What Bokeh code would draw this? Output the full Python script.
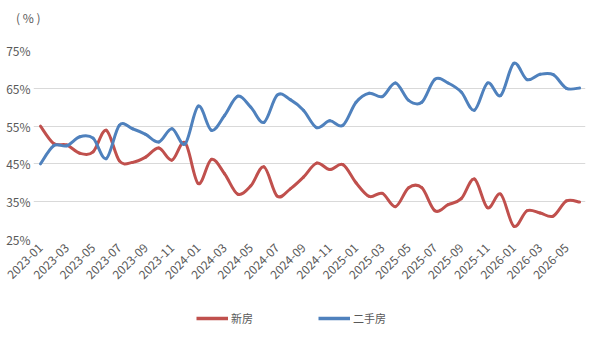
import numpy as np
from bokeh.plotting import figure
from bokeh.layouts import column
from bokeh.models import (Range1d, FixedTicker, Legend, LegendItem, PrintfTickFormatter,
                          ColumnDataSource, Div)
from bokeh.embed import file_html
from bokeh.resources import INLINE

months = ["2023-01", "2023-02", "2023-03", "2023-04", "2023-05", "2023-06", "2023-07", "2023-08",
          "2023-09", "2023-10", "2023-11", "2023-12", "2024-01", "2024-02", "2024-03", "2024-04",
          "2024-05", "2024-06", "2024-07", "2024-08", "2024-09", "2024-10", "2024-11", "2024-12",
          "2025-01", "2025-02", "2025-03", "2025-04", "2025-05", "2025-06", "2025-07", "2025-08",
          "2025-09", "2025-10", "2025-11", "2025-12", "2026-01", "2026-02", "2026-03", "2026-04",
          "2026-05", "2026-06"]

new_home = [55.0, 50.4, 50.0, 47.8, 48.2, 53.9, 45.8, 45.4, 46.8, 49.2, 46.0, 50.6,
            39.8, 46.2, 42.4, 37.0, 39.2, 44.2, 36.5, 38.4, 41.5, 45.2, 43.5, 44.8,
            40.0, 36.4, 37.2, 33.7, 38.7, 38.7, 32.6, 34.2, 35.8, 41.0, 33.4, 37.0,
            28.5, 32.6, 32.0, 31.2, 35.2, 34.9]

second_hand = [45.0, 49.8, 49.8, 52.2, 51.8, 46.4, 55.2, 54.3, 52.8, 50.8, 54.3, 50.3,
               60.3, 53.9, 57.8, 62.9, 60.0, 56.0, 63.2, 62.0, 59.2, 54.6, 56.4, 55.2,
               61.3, 63.7, 62.8, 66.4, 61.8, 61.3, 67.4, 66.4, 64.0, 59.2, 66.4, 63.1,
               71.6, 67.3, 68.7, 68.6, 65.0, 65.1]

series_names = ["新房", "二手房"]
colors = ["#C0504D", "#4F81BD"]
y_ticks = [25, 35, 45, 55, 65, 75]
unit_text = "( % )"
FONT = "Noto Sans CJK SC"
GREY = "#595959"

W = 606
TOP_H = 36
MAIN_H = 295 - TOP_H
LEG_H = 341 - TOP_H - MAIN_H

# top strip with the unit label
top = Div(text=unit_text, width=W, height=TOP_H, margin=0,
          styles={"font-family": FONT, "font-size": "12px", "color": GREY,
                  "line-height": "16px", "padding-left": "16px", "padding-top": "10px",
                  "box-sizing": "border-box", "background": "white"})

# main chart
p = figure(width=W, height=MAIN_H, output_backend="svg", toolbar_location=None,
           x_range=Range1d(-0.53, 41.45), y_range=Range1d(25, 75),
           min_border_left=33, min_border_right=21, min_border_top=50 - TOP_H, min_border_bottom=56)
p.outline_line_color = None
p.background_fill_color = "white"
p.border_fill_color = "white"
p.title.visible = False


def bezier_source(vals):
    n = len(vals)
    xs = np.arange(n, dtype=float)
    ys = np.asarray(vals, dtype=float)
    d = dict(x0=[], y0=[], x1=[], y1=[], cx0=[], cy0=[], cx1=[], cy1=[])
    for k in range(n - 1):
        a = max(k - 1, 0)
        b = min(k + 2, n - 1)
        d["x0"].append(xs[k]); d["y0"].append(ys[k])
        d["x1"].append(xs[k + 1]); d["y1"].append(ys[k + 1])
        d["cx0"].append(xs[k] + (xs[k + 1] - xs[a]) / 6)
        d["cy0"].append(ys[k] + (ys[k + 1] - ys[a]) / 6)
        d["cx1"].append(xs[k + 1] - (xs[b] - xs[k]) / 6)
        d["cy1"].append(ys[k + 1] - (ys[b] - ys[k]) / 6)
    return ColumnDataSource(d)


for vals, col in zip([new_home, second_hand], colors):
    p.bezier(x0="x0", y0="y0", x1="x1", y1="y1", cx0="cx0", cy0="cy0", cx1="cx1", cy1="cy1",
             source=bezier_source(vals), line_color=col, line_width=3, line_cap="round")

p.yaxis.ticker = FixedTicker(ticks=y_ticks)
p.yaxis.formatter = PrintfTickFormatter(format="%d%%")
p.yaxis.axis_line_color = None
p.yaxis.major_tick_line_color = None
p.yaxis.minor_tick_line_color = None
p.yaxis.major_tick_out = 0
p.yaxis.major_tick_in = 0
p.yaxis.major_label_standoff = 3
p.yaxis.major_label_text_font = FONT
p.yaxis.major_label_text_font_size = "12px"
p.yaxis.major_label_text_color = GREY

xt = list(range(0, len(months), 2))
p.xaxis.ticker = FixedTicker(ticks=xt)
p.xaxis.major_label_overrides = {i: months[i] for i in xt}
p.xaxis.major_label_orientation = np.pi / 4
p.xaxis.axis_line_color = None
p.xaxis.major_tick_line_color = None
p.xaxis.minor_tick_line_color = None
p.xaxis.major_tick_out = 0
p.xaxis.major_tick_in = 0
p.xaxis.major_label_standoff = 6
p.xaxis.major_label_text_font = FONT
p.xaxis.major_label_text_font_size = "12px"
p.xaxis.major_label_text_color = GREY

p.xgrid.grid_line_color = None
p.ygrid.ticker = FixedTicker(ticks=y_ticks)
p.ygrid.grid_line_color = "#D9D9D9"
p.ygrid.grid_line_width = 1

# legend strip below the chart
lf = figure(width=W, height=LEG_H, output_backend="svg", toolbar_location=None,
            x_range=Range1d(0, 1), y_range=Range1d(0, 1),
            x_axis_location=None, y_axis_location=None,
            min_border_left=0, min_border_right=0, min_border_top=0, min_border_bottom=0)
lf.grid.visible = False
lf.outline_line_color = None
lf.border_fill_color = "white"
lf.background_fill_color = "white"
lf.title.visible = False
items = []
for name, col in zip(series_names, colors):
    r = lf.line(x=[-100, -90], y=[-100, -100], line_color=col, line_width=3.5)
    items.append(LegendItem(label=name, renderers=[r]))
legend = Legend(items=items, orientation="horizontal", location=(163, LEG_H - 31),
                glyph_width=32, glyph_height=16, label_standoff=3, spacing=23, label_width=64,
                label_height=16,
                label_text_font=FONT, label_text_font_size="11px", label_text_color=GREY,
                border_line_color=None, background_fill_alpha=0, padding=0, margin=0)
lf.add_layout(legend, "center")

layout = column(top, p, lf, spacing=0)
open("out.html", "w").write(file_html(layout, INLINE))
